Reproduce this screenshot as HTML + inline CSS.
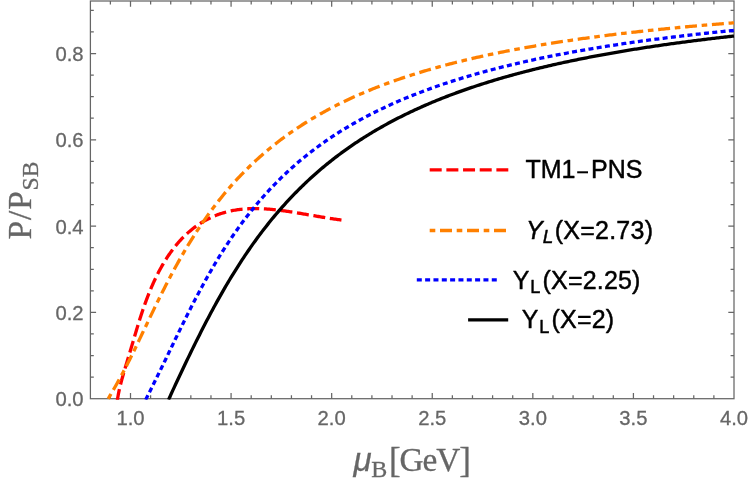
<!DOCTYPE html>
<html><head><meta charset="utf-8"><title>plot</title>
<style>html,body{margin:0;padding:0;background:#fff;}body{width:750px;height:486px;overflow:hidden;font-family:"Liberation Sans",sans-serif;}svg{display:block;will-change:transform;}</style>
</head><body>
<svg width="750" height="486" viewBox="0 0 750 486">
<rect width="750" height="486" fill="#fff"/>
<defs><clipPath id="c"><rect x="90.4" y="1.0" width="644.3000000000001" height="398.7"/></clipPath></defs>
<g stroke="#666666" stroke-width="1.25" fill="none">
<rect x="90.4" y="1.0" width="643.6" height="397.7"/>
<path d="M110.38,398.7 v-3.4 M110.38,1.0 v3.4 M130.50,398.7 v-5.7 M130.50,1.0 v5.7 M150.62,398.7 v-3.4 M150.62,1.0 v3.4 M170.73,398.7 v-3.4 M170.73,1.0 v3.4 M190.85,398.7 v-3.4 M190.85,1.0 v3.4 M210.97,398.7 v-3.4 M210.97,1.0 v3.4 M231.08,398.7 v-5.7 M231.08,1.0 v5.7 M251.20,398.7 v-3.4 M251.20,1.0 v3.4 M271.32,398.7 v-3.4 M271.32,1.0 v3.4 M291.43,398.7 v-3.4 M291.43,1.0 v3.4 M311.55,398.7 v-3.4 M311.55,1.0 v3.4 M331.67,398.7 v-5.7 M331.67,1.0 v5.7 M351.78,398.7 v-3.4 M351.78,1.0 v3.4 M371.90,398.7 v-3.4 M371.90,1.0 v3.4 M392.02,398.7 v-3.4 M392.02,1.0 v3.4 M412.13,398.7 v-3.4 M412.13,1.0 v3.4 M432.25,398.7 v-5.7 M432.25,1.0 v5.7 M452.37,398.7 v-3.4 M452.37,1.0 v3.4 M472.48,398.7 v-3.4 M472.48,1.0 v3.4 M492.60,398.7 v-3.4 M492.60,1.0 v3.4 M512.72,398.7 v-3.4 M512.72,1.0 v3.4 M532.83,398.7 v-5.7 M532.83,1.0 v5.7 M552.95,398.7 v-3.4 M552.95,1.0 v3.4 M573.07,398.7 v-3.4 M573.07,1.0 v3.4 M593.18,398.7 v-3.4 M593.18,1.0 v3.4 M613.30,398.7 v-3.4 M613.30,1.0 v3.4 M633.42,398.7 v-5.7 M633.42,1.0 v5.7 M653.53,398.7 v-3.4 M653.53,1.0 v3.4 M673.65,398.7 v-3.4 M673.65,1.0 v3.4 M693.77,398.7 v-3.4 M693.77,1.0 v3.4 M713.88,398.7 v-3.4 M713.88,1.0 v3.4 M90.4,377.12 h3.4 M734.0,377.12 h-3.4 M90.4,355.55 h3.4 M734.0,355.55 h-3.4 M90.4,333.98 h3.4 M734.0,333.98 h-3.4 M90.4,312.40 h5.7 M734.0,312.40 h-5.7 M90.4,290.82 h3.4 M734.0,290.82 h-3.4 M90.4,269.25 h3.4 M734.0,269.25 h-3.4 M90.4,247.67 h3.4 M734.0,247.67 h-3.4 M90.4,226.10 h5.7 M734.0,226.10 h-5.7 M90.4,204.53 h3.4 M734.0,204.53 h-3.4 M90.4,182.95 h3.4 M734.0,182.95 h-3.4 M90.4,161.38 h3.4 M734.0,161.38 h-3.4 M90.4,139.80 h5.7 M734.0,139.80 h-5.7 M90.4,118.23 h3.4 M734.0,118.23 h-3.4 M90.4,96.65 h3.4 M734.0,96.65 h-3.4 M90.4,75.08 h3.4 M734.0,75.08 h-3.4 M90.4,53.50 h5.7 M734.0,53.50 h-5.7 M90.4,31.93 h3.4 M734.0,31.93 h-3.4 M90.4,10.35 h3.4 M734.0,10.35 h-3.4"/>
</g>
<g clip-path="url(#c)" fill="none" stroke-width="3.3" stroke-linejoin="round">
<path d="M117.30,400.81 L117.46,399.65 L117.63,398.48 L117.82,397.32 L118.02,396.17 L118.22,395.01 L118.44,393.86 L118.67,392.72 L118.90,391.58 L119.15,390.44 L119.40,389.30 L119.66,388.17 L119.92,387.03 L120.20,385.91 L120.47,384.78 L120.76,383.66 L121.05,382.53 L121.34,381.42 L121.64,380.30 L121.94,379.18 L122.25,378.07 L122.56,376.96 L122.87,375.85 L123.19,374.74 L123.51,373.63 L123.83,372.53 L124.15,371.42 L124.47,370.32 L124.80,369.22 L125.13,368.12 L125.46,367.02 L125.78,365.92 L126.11,364.82 L126.44,363.72 L126.77,362.63 L127.10,361.53 L127.43,360.43 L127.76,359.34 L128.09,358.25 L128.42,357.15 L128.75,356.06 L129.08,354.96 L129.41,353.87 L129.74,352.78 L130.06,351.69 L130.39,350.59 L130.71,349.50 L131.04,348.41 L131.36,347.32 L131.69,346.22 L132.01,345.13 L132.33,344.04 L132.66,342.95 L132.98,341.85 L133.30,340.76 L133.63,339.67 L133.95,338.57 L134.27,337.48 L134.60,336.39 L134.92,335.29 L135.25,334.20 L135.57,333.10 L135.90,332.01 L136.23,330.91 L136.55,329.82 L136.88,328.72 L137.22,327.63 L137.55,326.53 L137.88,325.44 L138.22,324.34 L138.56,323.24 L138.90,322.15 L139.24,321.05 L139.59,319.96 L139.93,318.86 L140.28,317.76 L140.64,316.67 L140.99,315.57 L141.35,314.47 L141.71,313.38 L142.07,312.28 L142.44,311.18 L142.81,310.09 L143.18,308.99 L143.56,307.90 L143.94,306.80 L144.32,305.71 L144.71,304.61 L145.10,303.52 L145.50,302.42 L145.90,301.33 L146.30,300.24 L146.71,299.15 L147.12,298.06 L147.53,296.97 L147.96,295.88 L148.38,294.79 L148.81,293.71 L149.24,292.62 L149.68,291.54 L150.13,290.46 L150.58,289.38 L151.03,288.30 L151.49,287.22 L151.95,286.14 L152.42,285.07 L152.90,284.00 L153.38,282.93 L153.86,281.86 L154.35,280.79 L154.85,279.73 L155.35,278.67 L155.86,277.61 L156.37,276.56 L156.89,275.50 L157.42,274.45 L157.95,273.41 L158.49,272.36 L159.03,271.32 L159.58,270.29 L160.14,269.25 L160.70,268.23 L161.27,267.20 L161.85,266.18 L162.43,265.16 L163.02,264.15 L163.62,263.14 L164.22,262.13 L164.83,261.13 L165.44,260.14 L166.07,259.15 L166.70,258.17 L167.33,257.19 L167.98,256.21 L168.63,255.25 L169.28,254.28 L169.95,253.33 L170.62,252.38 L171.30,251.43 L171.99,250.50 L172.68,249.57 L173.38,248.64 L174.09,247.73 L174.80,246.82 L175.53,245.91 L176.26,245.02 L176.99,244.13 L177.74,243.25 L178.49,242.38 L179.25,241.52 L180.02,240.67 L180.80,239.82 L181.58,238.99 L182.37,238.16 L183.17,237.34 L183.97,236.53 L184.79,235.73 L185.61,234.94 L186.44,234.16 L187.27,233.39 L188.12,232.63 L188.97,231.88 L189.83,231.14 L190.69,230.41 L191.57,229.69 L192.45,228.98 L193.34,228.29 L194.24,227.60 L195.14,226.92 L196.05,226.26 L196.97,225.61 L197.90,224.97 L198.83,224.33 L199.77,223.72 L200.72,223.11 L201.67,222.51 L202.63,221.93 L203.60,221.36 L204.58,220.80 L205.56,220.25 L206.55,219.72 L207.55,219.19 L208.55,218.68 L209.56,218.18 L210.57,217.70 L211.60,217.23 L212.62,216.77 L213.66,216.32 L214.70,215.88 L215.75,215.46 L216.80,215.05 L217.86,214.65 L218.92,214.27 L220.00,213.90 L221.07,213.54 L222.15,213.20 L223.24,212.86 L224.33,212.55 L225.43,212.24 L226.53,211.95 L227.64,211.67 L228.75,211.40 L229.87,211.14 L230.99,210.90 L232.11,210.67 L233.24,210.46 L234.38,210.25 L235.52,210.06 L236.66,209.88 L237.80,209.71 L238.95,209.56 L240.10,209.42 L241.26,209.29 L242.42,209.17 L243.58,209.06 L244.74,208.96 L245.91,208.88 L247.08,208.80 L248.25,208.74 L249.43,208.69 L250.60,208.65 L251.78,208.62 L252.96,208.59 L254.14,208.58 L255.32,208.58 L256.50,208.59 L257.68,208.61 L258.87,208.63 L260.05,208.67 L261.23,208.71 L262.42,208.76 L263.60,208.82 L264.78,208.89 L265.97,208.96 L267.15,209.05 L268.33,209.13 L269.51,209.23 L270.69,209.33 L271.86,209.44 L273.04,209.55 L274.21,209.67 L275.38,209.79 L276.55,209.92 L277.72,210.06 L278.89,210.20 L280.05,210.34 L281.21,210.49 L282.37,210.64 L283.53,210.79 L284.68,210.95 L285.83,211.11 L286.98,211.28 L288.13,211.45 L289.28,211.62 L290.42,211.79 L291.56,211.97 L292.70,212.14 L293.83,212.32 L294.97,212.51 L296.10,212.69 L297.23,212.88 L298.35,213.06 L299.48,213.25 L300.60,213.44 L301.72,213.63 L302.84,213.82 L303.96,214.01 L305.08,214.20 L306.19,214.39 L307.31,214.59 L308.42,214.78 L309.54,214.97 L310.65,215.16 L311.76,215.36 L312.88,215.55 L313.99,215.74 L315.10,215.93 L316.22,216.12 L317.33,216.31 L318.45,216.50 L319.56,216.69 L320.68,216.88 L321.80,217.06 L322.92,217.25 L324.05,217.43 L325.18,217.61 L326.31,217.80 L327.44,217.98 L328.58,218.15 L329.72,218.33 L330.87,218.51 L332.02,218.68 L333.17,218.86 L334.34,219.03 L335.50,219.20 L336.68,219.37 L337.86,219.53 L339.05,219.70 L340.25,219.86 L341.45,220.02" stroke="#ff0000" stroke-dasharray="12 4.67"/>
<path d="M107.74,399.70 L109.31,396.92 L110.88,394.18 L112.45,391.46 L114.02,388.74 L115.59,386.00 L117.16,383.22 L118.73,380.41 L120.29,377.56 L121.86,374.65 L123.43,371.71 L125.00,368.71 L126.57,365.68 L128.14,362.60 L129.71,359.48 L131.28,356.32 L132.85,353.14 L134.42,349.92 L135.99,346.68 L137.56,343.43 L139.13,340.16 L140.70,336.87 L142.27,333.58 L143.84,330.28 L145.41,326.99 L146.98,323.69 L148.55,320.41 L150.12,317.13 L151.69,313.86 L153.26,310.61 L154.83,307.37 L156.40,304.15 L157.96,300.96 L159.53,297.78 L161.10,294.63 L162.67,291.50 L164.24,288.41 L165.81,285.33 L167.38,282.29 L168.95,279.28 L170.52,276.30 L172.09,273.35 L173.66,270.43 L175.23,267.55 L176.80,264.70 L178.37,261.88 L179.94,259.09 L181.51,256.34 L183.08,253.62 L184.65,250.94 L186.22,248.29 L187.79,245.67 L189.36,243.09 L190.93,240.54 L192.50,238.03 L194.07,235.54 L195.63,233.10 L197.20,230.68 L198.77,228.30 L200.34,225.95 L201.91,223.63 L203.48,221.34 L205.05,219.08 L206.62,216.86 L208.19,214.66 L209.76,212.50 L211.33,210.36 L212.90,208.26 L214.47,206.18 L216.04,204.14 L217.61,202.12 L219.18,200.12 L220.75,198.16 L222.32,196.22 L223.89,194.31 L225.46,192.43 L227.03,190.57 L228.60,188.73 L230.17,186.93 L231.74,185.14 L233.30,183.38 L234.87,181.65 L236.44,179.93 L238.01,178.24 L239.58,176.58 L241.15,174.93 L242.72,173.31 L244.29,171.71 L245.86,170.13 L247.43,168.57 L249.00,167.03 L250.57,165.51 L252.14,164.01 L253.71,162.53 L255.28,161.07 L256.85,159.63 L258.42,158.21 L259.99,156.80 L261.56,155.41 L263.13,154.04 L264.70,152.69 L266.27,151.36 L267.84,150.04 L269.40,148.74 L270.97,147.45 L272.54,146.18 L274.11,144.93 L275.68,143.69 L277.25,142.46 L278.82,141.25 L280.39,140.06 L281.96,138.88 L283.53,137.71 L285.10,136.56 L286.67,135.42 L288.24,134.30 L289.81,133.19 L291.38,132.09 L292.95,131.00 L294.52,129.93 L296.09,128.87 L297.66,127.82 L299.23,126.78 L300.80,125.76 L302.37,124.75 L303.94,123.75 L305.51,122.76 L307.07,121.78 L308.64,120.81 L310.21,119.85 L311.78,118.91 L313.35,117.97 L314.92,117.05 L316.49,116.13 L318.06,115.23 L319.63,114.33 L321.20,113.44 L322.77,112.57 L324.34,111.70 L325.91,110.84 L327.48,109.99 L329.05,109.16 L330.62,108.33 L332.19,107.50 L333.76,106.69 L335.33,105.89 L336.90,105.09 L338.47,104.30 L340.04,103.52 L341.61,102.75 L343.18,101.99 L344.74,101.23 L346.31,100.48 L347.88,99.74 L349.45,99.01 L351.02,98.28 L352.59,97.56 L354.16,96.85 L355.73,96.15 L357.30,95.45 L358.87,94.76 L360.44,94.08 L362.01,93.40 L363.58,92.73 L365.15,92.07 L366.72,91.41 L368.29,90.76 L369.86,90.11 L371.43,89.47 L373.00,88.84 L374.57,88.21 L376.14,87.59 L377.71,86.98 L379.28,86.37 L380.84,85.77 L382.41,85.17 L383.98,84.58 L385.55,83.99 L387.12,83.41 L388.69,82.84 L390.26,82.27 L391.83,81.70 L393.40,81.14 L394.97,80.59 L396.54,80.04 L398.11,79.49 L399.68,78.95 L401.25,78.42 L402.82,77.89 L404.39,77.36 L405.96,76.84 L407.53,76.33 L409.10,75.81 L410.67,75.31 L412.24,74.80 L413.81,74.31 L415.38,73.81 L416.95,73.32 L418.51,72.84 L420.08,72.36 L421.65,71.88 L423.22,71.41 L424.79,70.94 L426.36,70.47 L427.93,70.01 L429.50,69.56 L431.07,69.10 L432.64,68.66 L434.21,68.21 L435.78,67.77 L437.35,67.33 L438.92,66.90 L440.49,66.47 L442.06,66.04 L443.63,65.62 L445.20,65.20 L446.77,64.78 L448.34,64.37 L449.91,63.96 L451.48,63.55 L453.05,63.15 L454.62,62.75 L456.18,62.35 L457.75,61.96 L459.32,61.57 L460.89,61.18 L462.46,60.80 L464.03,60.42 L465.60,60.04 L467.17,59.67 L468.74,59.30 L470.31,58.93 L471.88,58.56 L473.45,58.20 L475.02,57.84 L476.59,57.48 L478.16,57.13 L479.73,56.77 L481.30,56.43 L482.87,56.08 L484.44,55.74 L486.01,55.39 L487.58,55.06 L489.15,54.72 L490.72,54.39 L492.28,54.06 L493.85,53.73 L495.42,53.40 L496.99,53.08 L498.56,52.76 L500.13,52.44 L501.70,52.13 L503.27,51.81 L504.84,51.50 L506.41,51.19 L507.98,50.89 L509.55,50.58 L511.12,50.28 L512.69,49.98 L514.26,49.68 L515.83,49.39 L517.40,49.09 L518.97,48.80 L520.54,48.51 L522.11,48.23 L523.68,47.94 L525.25,47.66 L526.82,47.38 L528.39,47.10 L529.95,46.82 L531.52,46.55 L533.09,46.28 L534.66,46.01 L536.23,45.74 L537.80,45.47 L539.37,45.20 L540.94,44.94 L542.51,44.68 L544.08,44.42 L545.65,44.16 L547.22,43.91 L548.79,43.65 L550.36,43.40 L551.93,43.15 L553.50,42.90 L555.07,42.66 L556.64,42.41 L558.21,42.17 L559.78,41.92 L561.35,41.68 L562.92,41.45 L564.49,41.21 L566.06,40.97 L567.62,40.74 L569.19,40.51 L570.76,40.28 L572.33,40.05 L573.90,39.82 L575.47,39.59 L577.04,39.37 L578.61,39.15 L580.18,38.93 L581.75,38.71 L583.32,38.49 L584.89,38.27 L586.46,38.05 L588.03,37.84 L589.60,37.63 L591.17,37.42 L592.74,37.21 L594.31,37.00 L595.88,36.79 L597.45,36.58 L599.02,36.38 L600.59,36.18 L602.16,35.97 L603.73,35.77 L605.29,35.58 L606.86,35.38 L608.43,35.18 L610.00,34.98 L611.57,34.79 L613.14,34.60 L614.71,34.41 L616.28,34.22 L617.85,34.03 L619.42,33.84 L620.99,33.65 L622.56,33.47 L624.13,33.28 L625.70,33.10 L627.27,32.92 L628.84,32.73 L630.41,32.55 L631.98,32.38 L633.55,32.20 L635.12,32.02 L636.69,31.85 L638.26,31.67 L639.83,31.50 L641.39,31.33 L642.96,31.15 L644.53,30.98 L646.10,30.82 L647.67,30.65 L649.24,30.48 L650.81,30.31 L652.38,30.15 L653.95,29.98 L655.52,29.82 L657.09,29.66 L658.66,29.50 L660.23,29.34 L661.80,29.18 L663.37,29.02 L664.94,28.86 L666.51,28.71 L668.08,28.55 L669.65,28.40 L671.22,28.24 L672.79,28.09 L674.36,27.94 L675.93,27.79 L677.50,27.64 L679.06,27.49 L680.63,27.34 L682.20,27.19 L683.77,27.05 L685.34,26.90 L686.91,26.76 L688.48,26.61 L690.05,26.47 L691.62,26.33 L693.19,26.19 L694.76,26.05 L696.33,25.91 L697.90,25.77 L699.47,25.63 L701.04,25.49 L702.61,25.36 L704.18,25.22 L705.75,25.09 L707.32,24.95 L708.89,24.82 L710.46,24.69 L712.03,24.55 L713.60,24.42 L715.17,24.29 L716.73,24.16 L718.30,24.03 L719.87,23.90 L721.44,23.78 L723.01,23.65 L724.58,23.52 L726.15,23.40 L727.72,23.27 L729.29,23.15 L730.86,23.03 L732.43,22.90 L734.00,22.78" stroke="#ff8000" stroke-dasharray="5.6 4.7 12 4.7" stroke-dashoffset="-1"/>
<path d="M145.68,399.70 L147.16,396.78 L148.63,393.86 L150.11,390.93 L151.58,387.99 L153.05,385.04 L154.53,382.07 L156.00,379.09 L157.48,376.10 L158.95,373.09 L160.43,370.07 L161.90,367.04 L163.38,364.01 L164.85,360.96 L166.32,357.91 L167.80,354.85 L169.27,351.79 L170.75,348.73 L172.22,345.67 L173.70,342.61 L175.17,339.56 L176.65,336.52 L178.12,333.48 L179.60,330.46 L181.07,327.45 L182.54,324.45 L184.02,321.46 L185.49,318.49 L186.97,315.54 L188.44,312.60 L189.92,309.69 L191.39,306.79 L192.87,303.92 L194.34,301.07 L195.81,298.24 L197.29,295.44 L198.76,292.66 L200.24,289.90 L201.71,287.17 L203.19,284.46 L204.66,281.79 L206.14,279.13 L207.61,276.51 L209.08,273.91 L210.56,271.34 L212.03,268.79 L213.51,266.27 L214.98,263.78 L216.46,261.32 L217.93,258.89 L219.41,256.48 L220.88,254.10 L222.36,251.75 L223.83,249.42 L225.30,247.12 L226.78,244.85 L228.25,242.61 L229.73,240.39 L231.20,238.20 L232.68,236.04 L234.15,233.90 L235.63,231.78 L237.10,229.70 L238.57,227.64 L240.05,225.60 L241.52,223.59 L243.00,221.60 L244.47,219.64 L245.95,217.70 L247.42,215.79 L248.90,213.90 L250.37,212.03 L251.84,210.18 L253.32,208.36 L254.79,206.56 L256.27,204.78 L257.74,203.03 L259.22,201.29 L260.69,199.58 L262.17,197.89 L263.64,196.22 L265.11,194.57 L266.59,192.94 L268.06,191.33 L269.54,189.73 L271.01,188.16 L272.49,186.61 L273.96,185.07 L275.44,183.56 L276.91,182.06 L278.39,180.58 L279.86,179.12 L281.33,177.67 L282.81,176.24 L284.28,174.83 L285.76,173.44 L287.23,172.06 L288.71,170.70 L290.18,169.35 L291.66,168.02 L293.13,166.70 L294.60,165.40 L296.08,164.12 L297.55,162.85 L299.03,161.59 L300.50,160.35 L301.98,159.12 L303.45,157.90 L304.93,156.70 L306.40,155.52 L307.87,154.34 L309.35,153.18 L310.82,152.03 L312.30,150.90 L313.77,149.77 L315.25,148.66 L316.72,147.56 L318.20,146.48 L319.67,145.40 L321.15,144.34 L322.62,143.28 L324.09,142.24 L325.57,141.21 L327.04,140.19 L328.52,139.19 L329.99,138.19 L331.47,137.20 L332.94,136.22 L334.42,135.25 L335.89,134.30 L337.36,133.35 L338.84,132.41 L340.31,131.48 L341.79,130.56 L343.26,129.66 L344.74,128.75 L346.21,127.86 L347.69,126.98 L349.16,126.11 L350.63,125.24 L352.11,124.38 L353.58,123.54 L355.06,122.70 L356.53,121.86 L358.01,121.04 L359.48,120.22 L360.96,119.42 L362.43,118.62 L363.91,117.82 L365.38,117.04 L366.85,116.26 L368.33,115.49 L369.80,114.73 L371.28,113.97 L372.75,113.22 L374.23,112.48 L375.70,111.74 L377.18,111.02 L378.65,110.29 L380.12,109.58 L381.60,108.87 L383.07,108.17 L384.55,107.47 L386.02,106.78 L387.50,106.10 L388.97,105.42 L390.45,104.75 L391.92,104.09 L393.39,103.43 L394.87,102.77 L396.34,102.12 L397.82,101.48 L399.29,100.85 L400.77,100.21 L402.24,99.59 L403.72,98.97 L405.19,98.35 L406.67,97.74 L408.14,97.14 L409.61,96.54 L411.09,95.95 L412.56,95.36 L414.04,94.77 L415.51,94.19 L416.99,93.62 L418.46,93.05 L419.94,92.48 L421.41,91.92 L422.88,91.37 L424.36,90.81 L425.83,90.27 L427.31,89.73 L428.78,89.19 L430.26,88.65 L431.73,88.12 L433.21,87.60 L434.68,87.08 L436.15,86.56 L437.63,86.05 L439.10,85.54 L440.58,85.04 L442.05,84.54 L443.53,84.04 L445.00,83.55 L446.48,83.06 L447.95,82.57 L449.43,82.09 L450.90,81.61 L452.37,81.14 L453.85,80.67 L455.32,80.20 L456.80,79.74 L458.27,79.28 L459.75,78.83 L461.22,78.37 L462.70,77.92 L464.17,77.48 L465.64,77.04 L467.12,76.60 L468.59,76.16 L470.07,75.73 L471.54,75.30 L473.02,74.87 L474.49,74.45 L475.97,74.03 L477.44,73.61 L478.91,73.20 L480.39,72.79 L481.86,72.38 L483.34,71.98 L484.81,71.58 L486.29,71.18 L487.76,70.78 L489.24,70.39 L490.71,70.00 L492.19,69.61 L493.66,69.23 L495.13,68.84 L496.61,68.46 L498.08,68.09 L499.56,67.71 L501.03,67.34 L502.51,66.97 L503.98,66.61 L505.46,66.24 L506.93,65.88 L508.40,65.53 L509.88,65.17 L511.35,64.82 L512.83,64.46 L514.30,64.12 L515.78,63.77 L517.25,63.43 L518.73,63.08 L520.20,62.74 L521.67,62.41 L523.15,62.07 L524.62,61.74 L526.10,61.41 L527.57,61.08 L529.05,60.76 L530.52,60.43 L532.00,60.11 L533.47,59.79 L534.95,59.47 L536.42,59.16 L537.89,58.85 L539.37,58.54 L540.84,58.23 L542.32,57.92 L543.79,57.62 L545.27,57.31 L546.74,57.01 L548.22,56.71 L549.69,56.42 L551.16,56.12 L552.64,55.83 L554.11,55.54 L555.59,55.25 L557.06,54.96 L558.54,54.67 L560.01,54.39 L561.49,54.11 L562.96,53.83 L564.43,53.55 L565.91,53.27 L567.38,53.00 L568.86,52.72 L570.33,52.45 L571.81,52.18 L573.28,51.91 L574.76,51.65 L576.23,51.38 L577.70,51.12 L579.18,50.86 L580.65,50.60 L582.13,50.34 L583.60,50.08 L585.08,49.83 L586.55,49.57 L588.03,49.32 L589.50,49.07 L590.98,48.82 L592.45,48.58 L593.92,48.33 L595.40,48.09 L596.87,47.84 L598.35,47.60 L599.82,47.36 L601.30,47.12 L602.77,46.89 L604.25,46.65 L605.72,46.42 L607.19,46.18 L608.67,45.95 L610.14,45.72 L611.62,45.49 L613.09,45.26 L614.57,45.04 L616.04,44.81 L617.52,44.59 L618.99,44.37 L620.46,44.15 L621.94,43.93 L623.41,43.71 L624.89,43.49 L626.36,43.28 L627.84,43.06 L629.31,42.85 L630.79,42.64 L632.26,42.43 L633.74,42.22 L635.21,42.01 L636.68,41.80 L638.16,41.60 L639.63,41.39 L641.11,41.19 L642.58,40.98 L644.06,40.78 L645.53,40.58 L647.01,40.38 L648.48,40.19 L649.95,39.99 L651.43,39.79 L652.90,39.60 L654.38,39.41 L655.85,39.21 L657.33,39.02 L658.80,38.83 L660.28,38.64 L661.75,38.45 L663.22,38.27 L664.70,38.08 L666.17,37.90 L667.65,37.71 L669.12,37.53 L670.60,37.35 L672.07,37.17 L673.55,36.99 L675.02,36.81 L676.50,36.63 L677.97,36.45 L679.44,36.27 L680.92,36.10 L682.39,35.93 L683.87,35.75 L685.34,35.58 L686.82,35.41 L688.29,35.24 L689.77,35.07 L691.24,34.90 L692.71,34.73 L694.19,34.56 L695.66,34.40 L697.14,34.23 L698.61,34.07 L700.09,33.91 L701.56,33.74 L703.04,33.58 L704.51,33.42 L705.98,33.26 L707.46,33.10 L708.93,32.94 L710.41,32.79 L711.88,32.63 L713.36,32.47 L714.83,32.32 L716.31,32.16 L717.78,32.01 L719.26,31.86 L720.73,31.71 L722.20,31.56 L723.68,31.41 L725.15,31.26 L726.63,31.11 L728.10,30.96 L729.58,30.81 L731.05,30.67 L732.53,30.52 L734.00,30.37" stroke="#0000ff" stroke-dasharray="5 3.33"/>
<path d="M168.54,399.70 L169.96,396.60 L171.37,393.51 L172.79,390.43 L174.21,387.36 L175.62,384.31 L177.04,381.27 L178.46,378.24 L179.88,375.22 L181.29,372.22 L182.71,369.22 L184.13,366.24 L185.54,363.27 L186.96,360.31 L188.38,357.37 L189.80,354.44 L191.21,351.53 L192.63,348.63 L194.05,345.75 L195.46,342.88 L196.88,340.03 L198.30,337.20 L199.72,334.39 L201.13,331.59 L202.55,328.81 L203.97,326.05 L205.39,323.31 L206.80,320.59 L208.22,317.90 L209.64,315.22 L211.05,312.56 L212.47,309.92 L213.89,307.31 L215.31,304.72 L216.72,302.15 L218.14,299.60 L219.56,297.07 L220.97,294.57 L222.39,292.08 L223.81,289.62 L225.23,287.19 L226.64,284.77 L228.06,282.38 L229.48,280.01 L230.89,277.67 L232.31,275.34 L233.73,273.04 L235.15,270.76 L236.56,268.51 L237.98,266.27 L239.40,264.06 L240.82,261.87 L242.23,259.71 L243.65,257.56 L245.07,255.44 L246.48,253.34 L247.90,251.26 L249.32,249.21 L250.74,247.17 L252.15,245.15 L253.57,243.16 L254.99,241.19 L256.40,239.24 L257.82,237.31 L259.24,235.39 L260.66,233.50 L262.07,231.63 L263.49,229.78 L264.91,227.95 L266.32,226.14 L267.74,224.35 L269.16,222.57 L270.58,220.82 L271.99,219.08 L273.41,217.37 L274.83,215.67 L276.25,213.99 L277.66,212.32 L279.08,210.68 L280.50,209.05 L281.91,207.44 L283.33,205.84 L284.75,204.27 L286.17,202.71 L287.58,201.16 L289.00,199.64 L290.42,198.12 L291.83,196.63 L293.25,195.15 L294.67,193.68 L296.09,192.24 L297.50,190.80 L298.92,189.38 L300.34,187.98 L301.75,186.59 L303.17,185.21 L304.59,183.85 L306.01,182.51 L307.42,181.17 L308.84,179.85 L310.26,178.55 L311.68,177.25 L313.09,175.98 L314.51,174.71 L315.93,173.46 L317.34,172.22 L318.76,170.99 L320.18,169.77 L321.60,168.57 L323.01,167.38 L324.43,166.20 L325.85,165.03 L327.26,163.87 L328.68,162.73 L330.10,161.59 L331.52,160.47 L332.93,159.36 L334.35,158.26 L335.77,157.17 L337.18,156.09 L338.60,155.02 L340.02,153.96 L341.44,152.92 L342.85,151.88 L344.27,150.85 L345.69,149.83 L347.11,148.82 L348.52,147.83 L349.94,146.84 L351.36,145.86 L352.77,144.89 L354.19,143.93 L355.61,142.97 L357.03,142.03 L358.44,141.09 L359.86,140.17 L361.28,139.25 L362.69,138.34 L364.11,137.44 L365.53,136.55 L366.95,135.66 L368.36,134.79 L369.78,133.92 L371.20,133.06 L372.61,132.21 L374.03,131.36 L375.45,130.53 L376.87,129.70 L378.28,128.87 L379.70,128.06 L381.12,127.25 L382.53,126.45 L383.95,125.66 L385.37,124.87 L386.79,124.09 L388.20,123.32 L389.62,122.55 L391.04,121.79 L392.46,121.04 L393.87,120.29 L395.29,119.55 L396.71,118.82 L398.12,118.09 L399.54,117.37 L400.96,116.66 L402.38,115.95 L403.79,115.25 L405.21,114.55 L406.63,113.86 L408.04,113.17 L409.46,112.49 L410.88,111.82 L412.30,111.15 L413.71,110.49 L415.13,109.83 L416.55,109.18 L417.96,108.53 L419.38,107.89 L420.80,107.26 L422.22,106.63 L423.63,106.00 L425.05,105.38 L426.47,104.77 L427.89,104.15 L429.30,103.55 L430.72,102.95 L432.14,102.35 L433.55,101.76 L434.97,101.17 L436.39,100.59 L437.81,100.02 L439.22,99.44 L440.64,98.87 L442.06,98.31 L443.47,97.75 L444.89,97.20 L446.31,96.65 L447.73,96.10 L449.14,95.56 L450.56,95.02 L451.98,94.48 L453.39,93.95 L454.81,93.43 L456.23,92.91 L457.65,92.39 L459.06,91.88 L460.48,91.37 L461.90,90.86 L463.32,90.36 L464.73,89.86 L466.15,89.36 L467.57,88.87 L468.98,88.38 L470.40,87.90 L471.82,87.42 L473.24,86.94 L474.65,86.47 L476.07,86.00 L477.49,85.53 L478.90,85.07 L480.32,84.61 L481.74,84.16 L483.16,83.70 L484.57,83.25 L485.99,82.81 L487.41,82.36 L488.82,81.92 L490.24,81.49 L491.66,81.05 L493.08,80.62 L494.49,80.19 L495.91,79.77 L497.33,79.35 L498.75,78.93 L500.16,78.51 L501.58,78.10 L503.00,77.69 L504.41,77.28 L505.83,76.88 L507.25,76.48 L508.67,76.08 L510.08,75.68 L511.50,75.29 L512.92,74.90 L514.33,74.51 L515.75,74.13 L517.17,73.74 L518.59,73.36 L520.00,72.99 L521.42,72.61 L522.84,72.24 L524.25,71.87 L525.67,71.50 L527.09,71.14 L528.51,70.78 L529.92,70.42 L531.34,70.06 L532.76,69.70 L534.18,69.35 L535.59,69.00 L537.01,68.65 L538.43,68.31 L539.84,67.96 L541.26,67.62 L542.68,67.28 L544.10,66.95 L545.51,66.61 L546.93,66.28 L548.35,65.95 L549.76,65.62 L551.18,65.29 L552.60,64.97 L554.02,64.65 L555.43,64.33 L556.85,64.01 L558.27,63.70 L559.68,63.38 L561.10,63.07 L562.52,62.76 L563.94,62.45 L565.35,62.15 L566.77,61.84 L568.19,61.54 L569.61,61.24 L571.02,60.94 L572.44,60.65 L573.86,60.35 L575.27,60.06 L576.69,59.77 L578.11,59.48 L579.53,59.19 L580.94,58.91 L582.36,58.62 L583.78,58.34 L585.19,58.06 L586.61,57.78 L588.03,57.50 L589.45,57.23 L590.86,56.96 L592.28,56.68 L593.70,56.41 L595.11,56.14 L596.53,55.88 L597.95,55.61 L599.37,55.35 L600.78,55.09 L602.20,54.83 L603.62,54.57 L605.04,54.31 L606.45,54.05 L607.87,53.80 L609.29,53.55 L610.70,53.29 L612.12,53.04 L613.54,52.80 L614.96,52.55 L616.37,52.30 L617.79,52.06 L619.21,51.82 L620.62,51.58 L622.04,51.34 L623.46,51.10 L624.88,50.86 L626.29,50.62 L627.71,50.39 L629.13,50.16 L630.54,49.92 L631.96,49.69 L633.38,49.47 L634.80,49.24 L636.21,49.01 L637.63,48.79 L639.05,48.56 L640.46,48.34 L641.88,48.12 L643.30,47.90 L644.72,47.68 L646.13,47.46 L647.55,47.24 L648.97,47.03 L650.39,46.82 L651.80,46.60 L653.22,46.39 L654.64,46.18 L656.05,45.97 L657.47,45.76 L658.89,45.56 L660.31,45.35 L661.72,45.15 L663.14,44.94 L664.56,44.74 L665.97,44.54 L667.39,44.34 L668.81,44.14 L670.23,43.94 L671.64,43.74 L673.06,43.55 L674.48,43.35 L675.89,43.16 L677.31,42.97 L678.73,42.77 L680.15,42.58 L681.56,42.39 L682.98,42.21 L684.40,42.02 L685.82,41.83 L687.23,41.65 L688.65,41.46 L690.07,41.28 L691.48,41.09 L692.90,40.91 L694.32,40.73 L695.74,40.55 L697.15,40.37 L698.57,40.20 L699.99,40.02 L701.40,39.84 L702.82,39.67 L704.24,39.49 L705.66,39.32 L707.07,39.15 L708.49,38.98 L709.91,38.81 L711.32,38.64 L712.74,38.47 L714.16,38.30 L715.58,38.13 L716.99,37.97 L718.41,37.80 L719.83,37.64 L721.25,37.47 L722.66,37.31 L724.08,37.15 L725.50,36.99 L726.91,36.82 L728.33,36.67 L729.75,36.51 L731.17,36.35 L732.58,36.19 L734.00,36.03" stroke="#000"/>
</g>
<g font-family="Liberation Sans, sans-serif" font-size="21.1" fill="#666666" stroke="#666666" stroke-width="0.3">
<text transform="translate(130.50,424.5) scale(0.96,1)" text-anchor="middle">1.0</text>
<text transform="translate(231.08,424.5) scale(0.96,1)" text-anchor="middle">1.5</text>
<text transform="translate(331.67,424.5) scale(0.96,1)" text-anchor="middle">2.0</text>
<text transform="translate(432.25,424.5) scale(0.96,1)" text-anchor="middle">2.5</text>
<text transform="translate(532.83,424.5) scale(0.96,1)" text-anchor="middle">3.0</text>
<text transform="translate(633.42,424.5) scale(0.96,1)" text-anchor="middle">3.5</text>
<text transform="translate(734.00,424.5) scale(0.96,1)" text-anchor="middle">4.0</text>
<text transform="translate(83.6,406.20) scale(0.96,1)" text-anchor="end">0.0</text>
<text transform="translate(83.6,319.90) scale(0.96,1)" text-anchor="end">0.2</text>
<text transform="translate(83.6,233.60) scale(0.96,1)" text-anchor="end">0.4</text>
<text transform="translate(83.6,147.30) scale(0.96,1)" text-anchor="end">0.6</text>
<text transform="translate(83.6,61.00) scale(0.96,1)" text-anchor="end">0.8</text>
</g>
<g fill="#666666" stroke="#666666" stroke-width="0.3">
<text transform="translate(30.6,239.4) rotate(-90)" font-family="Liberation Serif, serif" font-size="33.3"><tspan letter-spacing="0.9">P/P</tspan><tspan font-size="23.6" dy="7.2">SB</tspan></text>
<text y="470.6" font-family="Liberation Serif, serif" font-size="33.3"><tspan x="353.5" font-family="Liberation Sans, sans-serif" font-style="italic" font-size="33">μ</tspan><tspan x="371.15" dy="5.9" font-size="24">B</tspan><tspan x="388.95" dy="-4.5" font-size="35">[</tspan><tspan dy="-0.9" dx="-1.2" letter-spacing="-1.0">GeV</tspan><tspan dy="0.9" font-size="35">]</tspan></text>
</g>
<g fill="none" stroke-width="3.3">
<path d="M429.7,169.9 H508.3" stroke="#ff0000" stroke-dasharray="12 4.67"/>
<path d="M429.7,230.5 H506.2" stroke="#ff8000" stroke-dasharray="5.6 4.7 12 4.7"/>
<path d="M416.8,279.9 H497.5" stroke="#0000ff" stroke-dasharray="5 3.33"/>
<path d="M468.1,319.9 H508.2" stroke="#000"/>
</g>
<g font-family="Liberation Sans, sans-serif" font-size="25" fill="#000" stroke="#000" stroke-width="0.45" stroke-linejoin="round">
<text x="525.5" y="178.4">TM1<tspan x="591.1">PNS</tspan></text><rect x="577.2" y="171.3" width="10.8" height="2.0" stroke="none"/>
<text x="526.0" y="238.6"><tspan font-style="italic">Y</tspan><tspan font-style="italic" font-size="19" dy="4.6">L</tspan><tspan dy="-4.6" dx="1.4" letter-spacing="0.25">(X=2.73)</tspan></text>
<text x="512.7" y="288.5"><tspan>Y</tspan><tspan font-size="18.2" dy="4.8" dx="0.8">L</tspan><tspan dy="-4.8" dx="2.2" letter-spacing="0.19">(X=2.25)</tspan></text>
<text x="521.8" y="328.1"><tspan>Y</tspan><tspan font-size="18.2" dy="4.8" dx="0.8">L</tspan><tspan dy="-4.8" dx="2.2" letter-spacing="0.19">(X=2)</tspan></text>
</g>
</svg>
</body></html>
